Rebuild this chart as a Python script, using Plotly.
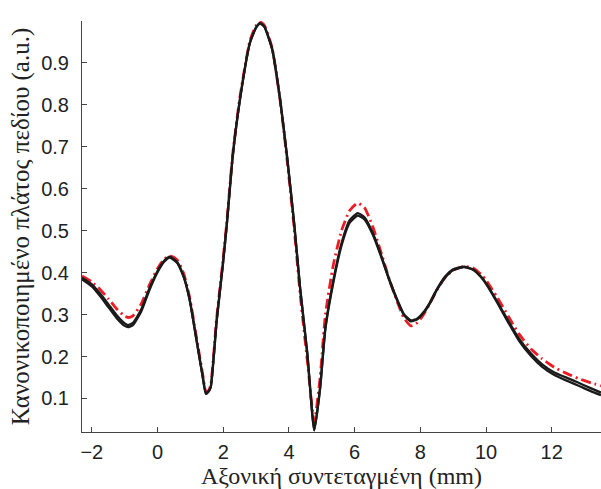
import plotly.graph_objects as go

# Axial coordinate (mm)
x_mm = [-2.3, -2.0, -1.75, -1.5, -1.25, -1.0, -0.9, -0.75, -0.5, -0.25,
        0.0, 0.2, 0.37, 0.6, 0.8, 0.98, 1.19, 1.38, 1.47, 1.55,
        1.62, 1.8, 1.99, 2.11, 2.29, 2.51, 2.81, 3.0, 3.12, 3.25,
        3.49, 3.73, 3.94, 4.16, 4.34, 4.56, 4.77, 4.95, 5.11, 5.35,
        5.6, 5.85, 6.09, 6.3, 6.55, 6.79, 7.05, 7.31, 7.5, 7.71,
        7.9, 8.1, 8.3, 8.5, 8.75, 9.0, 9.33, 9.6, 9.85, 10.0,
        10.35, 10.67, 11.0, 11.37, 11.7, 12.08, 12.5, 12.8, 13.2, 13.5]

# Black simulated curves (bundle)
black_upper = [0.388, 0.372, 0.350, 0.325, 0.299, 0.279, 0.275, 0.280, 0.312, 0.362,
               0.404, 0.428, 0.438, 0.425, 0.390, 0.335, 0.238, 0.150, 0.112, 0.117,
               0.128, 0.286, 0.421, 0.517, 0.679, 0.814, 0.948, 0.985, 0.995, 0.987,
               0.933, 0.814, 0.679, 0.517, 0.364, 0.207, 0.024, 0.126, 0.269, 0.381,
               0.470, 0.525, 0.542, 0.532, 0.495, 0.445, 0.385, 0.333, 0.301, 0.286,
               0.290, 0.306, 0.330, 0.360, 0.390, 0.408, 0.414, 0.408, 0.390, 0.375,
               0.330, 0.286, 0.243, 0.207, 0.182, 0.162, 0.148, 0.138, 0.124, 0.114]

black_lower = [0.384, 0.367, 0.344, 0.318, 0.292, 0.273, 0.270, 0.275, 0.307, 0.358,
               0.401, 0.426, 0.436, 0.423, 0.389, 0.334, 0.237, 0.149, 0.111, 0.116,
               0.127, 0.285, 0.420, 0.516, 0.678, 0.813, 0.947, 0.984, 0.994, 0.986,
               0.932, 0.813, 0.678, 0.516, 0.363, 0.206, 0.024, 0.125, 0.266, 0.376,
               0.464, 0.519, 0.536, 0.527, 0.491, 0.442, 0.383, 0.331, 0.299, 0.284,
               0.288, 0.304, 0.328, 0.358, 0.388, 0.406, 0.413, 0.407, 0.389, 0.373,
               0.327, 0.282, 0.238, 0.201, 0.176, 0.156, 0.141, 0.131, 0.117, 0.108]

# Red dash-dot reference curve
red_curve = [0.392, 0.378, 0.360, 0.338, 0.314, 0.296, 0.293, 0.297, 0.325, 0.370,
             0.410, 0.432, 0.440, 0.430, 0.397, 0.340, 0.243, 0.155, 0.117, 0.118,
             0.132, 0.292, 0.428, 0.522, 0.684, 0.820, 0.952, 0.990, 0.998, 0.990,
             0.935, 0.812, 0.672, 0.505, 0.350, 0.190, 0.045, 0.150, 0.300, 0.418,
             0.500, 0.548, 0.566, 0.555, 0.510, 0.452, 0.385, 0.328, 0.292, 0.273,
             0.280, 0.300, 0.328, 0.358, 0.388, 0.406, 0.415, 0.411, 0.396, 0.382,
             0.340, 0.297, 0.254, 0.218, 0.195, 0.174, 0.158, 0.148, 0.137, 0.130]

x_ticks = [-2, 0, 2, 4, 6, 8, 10, 12]
y_ticks = [0.1, 0.2, 0.3, 0.4, 0.5, 0.6, 0.7, 0.8, 0.9]
y_tick_text = ["0.1", "0.2", "0.3", "0.4", "0.5", "0.6", "0.7", "0.8", "0.9"]

fig = go.Figure()
fig.add_trace(go.Scatter(x=x_mm, y=red_curve, mode="lines",
                         line=dict(color="#ec1c24", width=2.8, dash="10px,4px,2px,4px",
                                   shape="spline", smoothing=0.5),
                         showlegend=False))
for yy in (black_lower, black_upper):
    fig.add_trace(go.Scatter(x=x_mm, y=yy, mode="lines",
                             line=dict(color="#1a1a1a", width=2.3, shape="spline", smoothing=0.5),
                             showlegend=False))

axis_col = "#444444"
serif = "Liberation Serif, Times New Roman, serif"
fig.update_layout(
    width=601, height=489,
    margin=dict(l=82, r=0, t=21, b=57, autoexpand=False),
    paper_bgcolor="white", plot_bgcolor="white",
    font=dict(family="Liberation Sans, Arial, sans-serif", size=20, color="#222222"),
    xaxis=dict(range=[-2.3, 13.5], tickvals=x_ticks, ticks="inside", ticklen=5,
               tickcolor=axis_col, showline=True, linecolor=axis_col, linewidth=1,
               showgrid=False, zeroline=False, ticklabelstandoff=2,
               title=dict(text="Αξονική συντεταγμένη (mm)", standoff=2,
                          font=dict(family=serif, size=24, color="#222222"))),
    yaxis=dict(range=[0.02, 1.0], tickvals=y_ticks, ticktext=y_tick_text,
               ticks="inside", ticklen=5,
               tickcolor=axis_col, showline=True, linecolor=axis_col, linewidth=1,
               showgrid=False, zeroline=False, ticklabelstandoff=8,
               title=dict(text="Κανονικοποιημένο πλάτος πεδίου (a.u.)", standoff=4,
                          font=dict(family=serif, size=25, color="#222222"))),
)

fig.write_html("out.html", config={"displayModeBar": False},
               post_script="document.body.style.margin='0';document.body.style.overflow='hidden';")
